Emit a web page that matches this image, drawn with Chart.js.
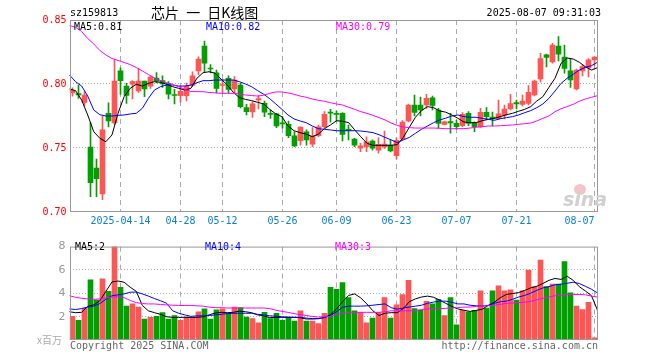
<!DOCTYPE html>
<html><head><meta charset="utf-8">
<script src="https://cdn.jsdelivr.net/npm/chart.js@4.4.0/dist/chart.umd.min.js"></script>
<style>
body{margin:0;background:#fff;width:660px;height:360px;overflow:hidden;position:relative;font-family:"DejaVu Sans Mono",monospace;}
.t{position:absolute;white-space:pre;font-size:10px;line-height:12px;font-family:"DejaVu Sans Mono",monospace;}
canvas{position:absolute;left:0;}
</style></head><body>
<canvas id="pc" width="660" height="236" style="top:0"></canvas>
<canvas id="vc" width="660" height="124" style="top:236px"></canvas>
<div class="t" style="left:70px;top:7px;color:#000">sz159813</div>
<div class="t" style="left:151px;top:4px;font-size:14px;line-height:17px;word-spacing:4px;font-family:'Noto Sans CJK SC',sans-serif;color:#000">芯片 一 日K线图</div>
<div class="t" style="right:59px;top:7px;color:#000">2025-08-07 09:31:03</div>
<div class="t" style="left:74px;top:21px;color:#000">MA5:0.81</div>
<div class="t" style="left:206px;top:21px;color:#0000ff">MA10:0.82</div>
<div class="t" style="left:336px;top:21px;color:#ff00ff">MA30:0.79</div>
<div class="t" style="left:75px;top:241px;color:#000">MA5:2</div>
<div class="t" style="left:205px;top:241px;color:#0000ff">MA10:4</div>
<div class="t" style="left:335px;top:241px;color:#ff00ff">MA30:3</div>
<div class="t" style="left:37px;top:334px;color:#aaa;font-family:'Noto Sans CJK SC',sans-serif">x百万</div>
<div class="t" style="left:70px;top:340px;color:#666">Copyright 2025 SINA.COM</div>
<div class="t" style="right:62px;top:340px;color:#666">http://finance.sina.com.cn</div>
<div style="position:absolute;left:574px;top:184px;width:12px;height:11px;border-radius:50%;background:#f6c4c4;"></div>
<div class="t" style="left:563px;top:189px;font-size:19px;line-height:20px;font-style:italic;font-weight:bold;font-family:'DejaVu Sans',sans-serif;color:#d0d0d0">sina</div>
<script>
const dates = ['04-01','04-02','04-03','04-07','04-08','04-09','04-10','04-11','04-14','04-15','04-16','04-17','04-18','04-21','04-22','04-23','04-24','04-25','04-28','04-29','04-30',
'05-06','05-07','05-08','05-09','05-12','05-13','05-14','05-15','05-16','05-19','05-20','05-21','05-22','05-23','05-26','05-27','05-28','05-29','05-30',
'06-03','06-04','06-05','06-06','06-09','06-10','06-11','06-12','06-13','06-16','06-17','06-18','06-19','06-20','06-23','06-24','06-25','06-26','06-27','06-30',
'07-01','07-02','07-03','07-04','07-07','07-08','07-09','07-10','07-11','07-14','07-15','07-16','07-17','07-18','07-21','07-22','07-23','07-24','07-25','07-28','07-29','07-30','07-31',
'08-01','08-04','08-05','08-06','08-07'];
const tickDates = ['04-14','04-28','05-12','05-26','06-09','06-23','07-07','07-21','08-07'];
const tickLabels = ['2025-04-14','04-28','05-12','05-26','06-09','06-23','07-07','07-21','08-07'];
const priceTicks = [0.70,0.75,0.80,0.85];
const volTicks = [2,4,6,8];

const open = [0.7930,0.7925,0.7857,0.7508,0.7344,0.7141,0.7771,0.7695,0.8102,0.7984,
0.7998,0.7945,0.8023,0.7984,0.8047,0.8027,0.8005,0.7918,0.7909,0.7909,
0.7988,0.8102,0.8297,0.8125,0.8088,0.7988,0.8045,0.7961,0.7992,0.7815,
0.7781,0.7876,0.7849,0.7770,0.7766,0.7695,0.7685,0.7596,0.7557,0.7627,
0.7529,0.7596,0.7666,0.7779,0.7770,0.7771,0.7645,0.7570,0.7498,0.7510,
0.7555,0.7484,0.7508,0.7523,0.7441,0.7570,0.7711,0.7836,0.7836,0.7836,
0.7891,0.7797,0.7685,0.7707,0.7693,0.7674,0.7771,0.7693,0.7666,0.7779,
0.7742,0.7730,0.7754,0.7805,0.7855,0.7841,0.7849,0.7914,0.8039,0.8227,
0.8172,0.8297,0.8211,0.8102,0.7961,0.8102,0.8125,0.8188];
const close = [0.7951,0.7915,0.7914,0.7229,0.7260,0.7641,0.7711,0.8023,0.8026,0.7910,
0.8018,0.8023,0.7961,0.8055,0.8023,0.8000,0.7920,0.7910,0.7943,0.7984,
0.8063,0.8195,0.8162,0.8117,0.7965,0.7992,0.7957,0.8031,0.7823,0.7784,
0.7846,0.7887,0.7779,0.7762,0.7672,0.7688,0.7596,0.7516,0.7664,0.7563,
0.7596,0.7666,0.7763,0.7773,0.7762,0.7607,0.7637,0.7523,0.7516,0.7549,
0.7498,0.7529,0.7531,0.7477,0.7559,0.7703,0.7836,0.7777,0.7797,0.7888,
0.7832,0.7693,0.7705,0.7695,0.7666,0.7763,0.7693,0.7666,0.7779,0.7745,
0.7727,0.7766,0.7805,0.7848,0.7844,0.7867,0.7935,0.8023,0.8199,0.8207,
0.8305,0.8234,0.8121,0.8031,0.8109,0.8137,0.8188,0.8211];
const high = [0.7971,0.7992,0.7940,0.7698,0.7414,0.7748,0.7852,0.8193,0.8127,0.8005,
0.8027,0.8123,0.8023,0.8063,0.8090,0.8063,0.8018,0.7959,0.7984,0.8008,
0.8096,0.8213,0.8336,0.8152,0.8109,0.8039,0.8063,0.8057,0.8005,0.7841,
0.7863,0.7909,0.7867,0.7797,0.7771,0.7745,0.7711,0.7627,0.7666,0.7641,
0.7659,0.7680,0.7784,0.7802,0.7789,0.7776,0.7680,0.7576,0.7537,0.7588,
0.7563,0.7580,0.7633,0.7563,0.7578,0.7715,0.7844,0.7914,0.7898,0.7920,
0.7906,0.7810,0.7711,0.7771,0.7719,0.7776,0.7784,0.7705,0.7810,0.7815,
0.7781,0.7875,0.7836,0.7920,0.7875,0.7914,0.7988,0.8031,0.8240,0.8234,
0.8318,0.8370,0.8305,0.8195,0.8117,0.8148,0.8198,0.8213];
const low = [0.7904,0.7888,0.7828,0.7120,0.7120,0.7096,0.7664,0.7684,0.7918,0.7849,
0.7883,0.7935,0.7901,0.7966,0.8008,0.7973,0.7883,0.7844,0.7859,0.7867,
0.7979,0.8070,0.8096,0.8086,0.7930,0.7930,0.7930,0.7922,0.7813,0.7758,
0.7738,0.7805,0.7745,0.7732,0.7659,0.7654,0.7580,0.7510,0.7523,0.7523,
0.7510,0.7588,0.7654,0.7701,0.7711,0.7555,0.7563,0.7510,0.7471,0.7471,
0.7484,0.7459,0.7496,0.7469,0.7414,0.7563,0.7703,0.7750,0.7750,0.7809,
0.7797,0.7654,0.7680,0.7615,0.7648,0.7666,0.7674,0.7627,0.7660,0.7719,
0.7672,0.7723,0.7727,0.7797,0.7805,0.7828,0.7836,0.7906,0.8016,0.8133,
0.8162,0.8180,0.8084,0.7973,0.7953,0.8063,0.8055,0.8141];
const ma5 = [0.7961,0.7948,0.7875,0.7758,0.7627,0.7576,0.7549,0.7602,0.7771,0.7901,
0.7966,0.7998,0.7984,0.8005,0.8018,0.8013,0.7998,0.7979,0.7966,0.7953,
0.7966,0.8045,0.8088,0.8096,0.8084,0.8037,0.7992,0.7935,0.7893,0.7880,
0.7870,0.7857,0.7844,0.7802,0.7766,0.7745,0.7672,0.7635,0.7620,0.7609,
0.7588,0.7609,0.7651,0.7680,0.7713,0.7709,0.7698,0.7641,0.7588,0.7537,
0.7521,0.7521,0.7521,0.7521,0.7526,0.7583,0.7662,0.7740,0.7792,0.7823,
0.7815,0.7789,0.7780,0.7758,0.7732,0.7703,0.7698,0.7698,0.7713,0.7724,
0.7732,0.7745,0.7760,0.7771,0.7787,0.7802,0.7823,0.7867,0.7901,0.7974,
0.8045,0.8162,0.8203,0.8195,0.8170,0.8135,0.8109,0.8128];
const ma10 = [0.8070,0.8018,0.7984,0.7906,0.7797,0.7760,0.7750,0.7750,0.7755,0.7758,
0.7766,0.7771,0.7810,0.7888,0.7953,0.7979,0.7992,0.7992,0.7984,0.7984,
0.7992,0.8010,0.8026,0.8026,0.8031,0.8031,0.8031,0.8031,0.8018,0.8000,
0.7979,0.7948,0.7920,0.7885,0.7844,0.7802,0.7758,0.7727,0.7711,0.7698,
0.7672,0.7651,0.7646,0.7641,0.7635,0.7635,0.7635,0.7635,0.7633,0.7627,
0.7620,0.7604,0.7583,0.7563,0.7542,0.7563,0.7583,0.7615,0.7646,0.7672,
0.7698,0.7719,0.7733,0.7750,0.7758,0.7745,0.7740,0.7740,0.7732,0.7724,
0.7716,0.7729,0.7737,0.7745,0.7758,0.7776,0.7792,0.7815,0.7844,0.7888,
0.7945,0.8005,0.8045,0.8076,0.8109,0.8130,0.8143,0.8170];
const ma30 = [0.8457,0.8443,0.8410,0.8355,0.8313,0.8262,0.8227,0.8199,0.8184,0.8168,
0.8152,0.8129,0.8102,0.8074,0.8047,0.8027,0.8010,0.7995,0.7979,0.7959,
0.7941,0.7940,0.7940,0.7934,0.7931,0.7927,0.7927,0.7927,0.7922,0.7914,
0.7910,0.7906,0.7912,0.7927,0.7938,0.7938,0.7930,0.7920,0.7906,0.7896,
0.7883,0.7873,0.7865,0.7854,0.7844,0.7836,0.7818,0.7802,0.7784,0.7771,
0.7755,0.7737,0.7719,0.7695,0.7677,0.7664,0.7659,0.7656,0.7656,0.7656,
0.7656,0.7654,0.7651,0.7651,0.7651,0.7651,0.7656,0.7662,0.7666,0.7672,
0.7672,0.7674,0.7677,0.7680,0.7685,0.7690,0.7695,0.7711,0.7732,0.7750,
0.7784,0.7807,0.7823,0.7841,0.7865,0.7883,0.7896,0.7909];
const volume = [2.02,1.69,2.74,5.16,3.41,5.24,4.17,8.60,4.52,2.90,
3.09,2.82,1.80,1.94,2.02,2.34,1.80,2.10,1.69,1.96,
1.94,2.42,2.66,1.80,2.58,2.66,2.28,2.82,2.77,1.96,
1.83,1.48,2.37,1.83,2.28,1.69,1.88,1.61,2.50,1.61,
1.61,1.40,2.28,4.52,4.35,4.92,3.63,2.50,2.37,1.48,
1.88,2.34,3.63,1.88,3.01,3.90,5.11,2.69,2.55,3.31,
3.09,3.49,2.10,3.63,1.29,2.55,2.42,2.55,4.22,2.74,
4.22,4.65,4.22,4.30,3.41,4.22,5.99,4.57,6.85,4.57,
4.78,4.78,6.72,4.03,2.90,2.61,3.23,0.19];
const vma5 = [2.42,2.34,2.37,2.88,3.01,3.36,4.17,4.97,5.05,4.95,
4.52,4.17,2.96,2.50,2.34,2.20,1.99,1.94,1.94,1.94,
1.94,1.94,1.99,2.15,2.31,2.37,2.34,2.37,2.47,2.42,
2.34,2.15,2.07,1.91,1.94,1.94,1.94,1.94,1.91,1.80,
1.80,1.83,1.94,2.15,2.66,3.28,3.82,3.95,3.60,3.09,
2.50,2.10,2.29,2.34,2.34,2.69,3.28,3.52,3.68,3.76,
3.66,3.41,3.14,2.88,2.66,2.55,2.45,2.53,2.64,2.96,
3.23,3.63,3.90,3.98,4.06,4.25,4.46,4.60,4.84,5.11,
5.27,5.19,5.46,5.11,4.57,4.20,3.80,2.55];
const vma10 = [2.66,2.61,2.69,2.82,2.90,3.12,3.49,3.79,3.87,3.95,
4.09,4.11,3.95,3.76,3.55,3.36,3.15,2.50,2.29,2.15,
2.02,2.07,2.07,2.10,2.15,2.20,2.26,2.29,2.29,2.29,
2.29,2.20,2.15,2.07,2.04,1.99,1.96,1.94,1.94,1.88,
1.83,1.83,1.91,2.10,2.42,2.80,2.90,2.90,2.90,2.93,
2.98,3.04,3.09,2.77,2.64,2.74,2.82,2.90,2.98,3.14,
3.25,3.33,3.33,3.23,3.09,3.09,2.98,2.93,2.90,2.96,
3.14,3.28,3.33,3.49,3.68,3.82,4.01,4.25,4.46,4.57,
4.73,4.78,4.86,4.95,4.84,4.60,4.35,4.03];
const vma30 = [3.79,3.66,3.57,3.52,3.49,3.52,3.60,3.68,3.71,3.63,
3.39,3.20,3.12,3.09,3.09,3.04,3.01,2.98,2.96,2.96,
2.96,2.93,2.90,2.82,2.77,2.77,2.74,2.74,2.74,2.74,
2.74,2.74,2.74,2.69,2.55,2.45,2.37,2.26,2.18,2.10,
2.02,1.96,2.02,2.02,2.20,2.28,2.37,2.37,2.37,2.37,
2.37,2.37,2.42,2.50,2.50,2.50,2.50,2.53,2.61,2.66,
2.69,2.69,2.71,2.74,2.77,2.82,2.82,2.88,2.90,2.93,
2.98,3.06,3.14,3.17,3.20,3.23,3.31,3.44,3.57,3.68,
3.79,3.82,3.90,3.90,3.90,3.87,3.76,3.68];

const RED = '#ff5555', GREEN = '#00a000';
const colors = close.map((c, i) => c >= open[i] ? RED : GREEN);
const tickIndex = tickDates.map(d => dates.indexOf(d));
const GRID = '#aaaaaa', NONE = 'rgba(0,0,0,0)';

Chart.defaults.font.family = 'DejaVu Sans Mono';
Chart.defaults.font.size = 10;

const frame = {
  id: 'frame',
  afterDraw(chart) {
    const {ctx, chartArea: a} = chart;
    ctx.save();
    ctx.strokeStyle = '#999';
    ctx.lineWidth = 1;
    ctx.strokeRect(a.left + 1, a.top + 0.5, (a.right) - (a.left + 1), a.bottom - a.top - 1);
    ctx.restore();
  }
};

function xAxis(show) {
  return {
    type: 'category', offset: true,
    grid: {offset: false, drawTicks: false, lineWidth: 1,
      color: c => tickIndex.includes(c.index) ? GRID : NONE},
    border: {display: false, dash: [5, 4]},
    ticks: {display: show, autoSkip: false, maxRotation: 0, minRotation: 0, align: 'inner', padding: 3,
      color: '#0a82d2', font: {size: 10, family: 'DejaVu Sans Mono'},
      callback: (v, i) => { const k = tickIndex.indexOf(i); return k >= 0 ? tickLabels[k] : ''; }},
    afterFit: s => { s.height = show ? 24 : 0; }
  };
}
const x2 = {type: 'category', offset: false, display: false};
const lineDs = (data, color) => ({type: 'line', xAxisID: 'x2', data, borderColor: color, borderWidth: 1,
  pointRadius: 0, tension: 0, fill: false, order: 0});

new Chart(document.getElementById('pc'), {
  data: {
    labels: dates,
    datasets: [
      {type: 'bar', data: low.map((l, i) => [l, high[i]]), backgroundColor: colors, barThickness: 1, grouped: false, order: 2},
      {type: 'bar', data: open.map((o, i) => [o, close[i]]), backgroundColor: colors, barThickness: 5, minBarLength: 1, grouped: false, order: 1},
      lineDs(ma30, '#ff00ff'), lineDs(ma10, '#0000ff'), lineDs(ma5, '#000000')
    ]
  },
  options: {
    responsive: false, animation: false, devicePixelRatio: 1,
    layout: {padding: {left: 0, right: 62.5, top: 20, bottom: 0}},
    plugins: {legend: {display: false}, tooltip: {enabled: false}},
    scales: {
      x: xAxis(true), x2,
      y: {position: 'left', min: 0.70, max: 0.85,
        afterBuildTicks: s => { s.ticks = priceTicks.map(v => ({value: v})); },
        afterFit: s => { s.width = 69.5; },
        grid: {drawTicks: false, color: c => (c.index === 1 || c.index === 2) ? GRID : NONE},
        border: {display: false, dash: [1, 2]},
        ticks: {padding: 3, color: '#ff0000', font: {size: 10}, callback: v => Number(v).toFixed(2)}}
    }
  },
  plugins: [frame]
});

new Chart(document.getElementById('vc'), {
  data: {
    labels: dates,
    datasets: [
      {type: 'bar', data: volume, backgroundColor: colors, barThickness: 5, grouped: false, order: 1},
      lineDs(vma30, '#ff00ff'), lineDs(vma10, '#0000ff'), lineDs(vma5, '#000000')
    ]
  },
  options: {
    responsive: false, animation: false, devicePixelRatio: 1,
    layout: {padding: {left: 0, right: 62.5, top: 5, bottom: 20}},
    plugins: {legend: {display: false}, tooltip: {enabled: false}},
    scales: {
      x: xAxis(false), x2,
      y: {position: 'left', min: 0, max: 8,
        afterBuildTicks: s => { s.ticks = volTicks.map(v => ({value: v})); },
        afterFit: s => { s.width = 69.5; },
        grid: {drawTicks: false, color: c => (c.index < 3) ? GRID : NONE},
        border: {display: false, dash: [1, 2]},
        ticks: {padding: 4, color: '#999', font: {size: 11, family: 'DejaVu Sans'}, callback: v => String(v)}}
    }
  },
  plugins: [frame]
});
</script>
</body></html>
